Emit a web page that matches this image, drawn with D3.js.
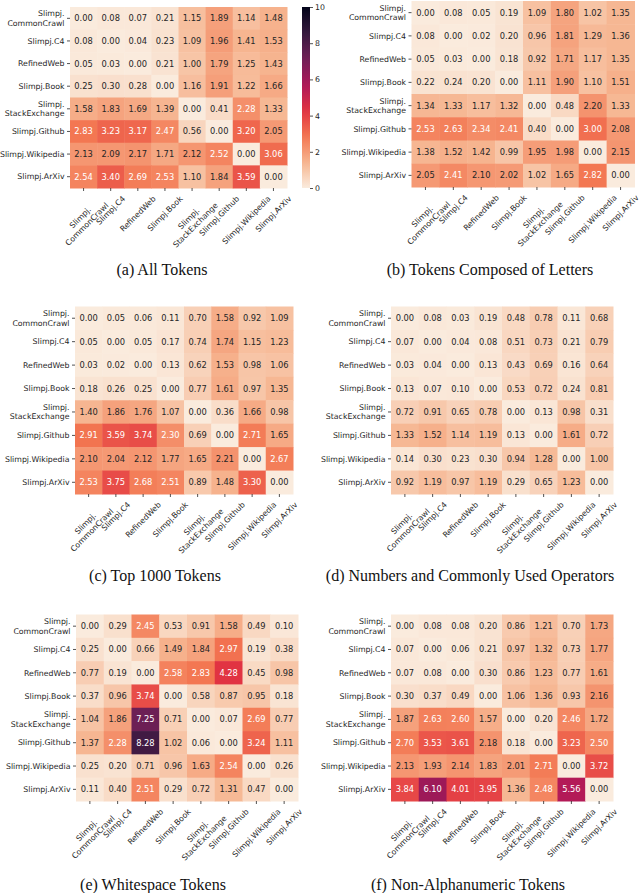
<!DOCTYPE html>
<html lang="en">
<head>
    <meta charset="UTF-8">
    <title>Token distribution distance heatmaps</title>
    <script src="https://cdn.jsdelivr.net/npm/d3@7"></script>
    <style>
        body { margin: 0; background: #fff; }
        svg { display: block; }
        .cellnum { font-family: "DejaVu Sans", sans-serif; font-size: 8.3px; }
        .ticklab { font-family: "DejaVu Sans", sans-serif; font-size: 7.8px; fill: #262626; }
        .caption { font-family: "Liberation Serif", serif; font-size: 16px; fill: #111; }
    </style>
</head>
<body>
    <div id="chart"></div>
    <script>
        // row / column labels (same order on both axes)
        const sources = ["Slimpj.\nCommonCrawl", "Slimpj.C4", "RefinedWeb", "Slimpj.Book",
            "Slimpj.\nStackExchange", "Slimpj.Github", "Slimpj.Wikipedia", "Slimpj.ArXiv"];

        const captions = ["(a) All Tokens", "(b) Tokens Composed of Letters", "(c) Top 1000 Tokens",
            "(d) Numbers and Commonly Used Operators", "(e) Whitespace Tokens", "(f) Non-Alphanumeric Tokens"];

        const colorbarTicks = [0, 2, 4, 6, 8, 10];

        const allTokens = [
            [0.00, 0.08, 0.07, 0.21, 1.15, 1.89, 1.14, 1.48],
            [0.08, 0.00, 0.04, 0.23, 1.09, 1.96, 1.41, 1.53],
            [0.05, 0.03, 0.00, 0.21, 1.00, 1.79, 1.25, 1.43],
            [0.25, 0.30, 0.28, 0.00, 1.16, 1.91, 1.22, 1.66],
            [1.58, 1.83, 1.69, 1.39, 0.00, 0.41, 2.28, 1.33],
            [2.83, 3.23, 3.17, 2.47, 0.56, 0.00, 3.20, 2.05],
            [2.13, 2.09, 2.17, 1.71, 2.12, 2.52, 0.00, 3.06],
            [2.54, 3.40, 2.69, 2.53, 1.10, 1.84, 3.59, 0.00]
        ];
        const letterTokens = [
            [0.00, 0.08, 0.05, 0.19, 1.09, 1.80, 1.02, 1.35],
            [0.08, 0.00, 0.02, 0.20, 0.96, 1.81, 1.29, 1.36],
            [0.05, 0.03, 0.00, 0.18, 0.92, 1.71, 1.17, 1.35],
            [0.22, 0.24, 0.20, 0.00, 1.11, 1.90, 1.10, 1.51],
            [1.34, 1.33, 1.17, 1.32, 0.00, 0.48, 2.20, 1.33],
            [2.53, 2.63, 2.34, 2.41, 0.40, 0.00, 3.00, 2.08],
            [1.38, 1.52, 1.42, 0.99, 1.95, 1.98, 0.00, 2.15],
            [2.05, 2.41, 2.10, 2.02, 1.02, 1.65, 2.82, 0.00]
        ];
        const top1000Tokens = [
            [0.00, 0.05, 0.06, 0.11, 0.70, 1.58, 0.92, 1.09],
            [0.05, 0.00, 0.05, 0.17, 0.74, 1.74, 1.15, 1.23],
            [0.03, 0.02, 0.00, 0.13, 0.62, 1.53, 0.98, 1.06],
            [0.18, 0.26, 0.25, 0.00, 0.77, 1.61, 0.97, 1.35],
            [1.40, 1.86, 1.76, 1.07, 0.00, 0.36, 1.66, 0.98],
            [2.91, 3.59, 3.74, 2.30, 0.69, 0.00, 2.71, 1.65],
            [2.10, 2.04, 2.12, 1.77, 1.65, 2.21, 0.00, 2.67],
            [2.53, 3.75, 2.68, 2.51, 0.89, 1.48, 3.30, 0.00]
        ];
        const numberTokens = [
            [0.00, 0.08, 0.03, 0.19, 0.48, 0.78, 0.11, 0.68],
            [0.07, 0.00, 0.04, 0.08, 0.51, 0.73, 0.21, 0.79],
            [0.03, 0.04, 0.00, 0.13, 0.43, 0.69, 0.16, 0.64],
            [0.13, 0.07, 0.10, 0.00, 0.53, 0.72, 0.24, 0.81],
            [0.72, 0.91, 0.65, 0.78, 0.00, 0.13, 0.98, 0.31],
            [1.33, 1.52, 1.14, 1.19, 0.13, 0.00, 1.61, 0.72],
            [0.14, 0.30, 0.23, 0.30, 0.94, 1.28, 0.00, 1.00],
            [0.92, 1.19, 0.97, 1.19, 0.29, 0.65, 1.23, 0.00]
        ];
        const whitespaceTokens = [
            [0.00, 0.29, 2.45, 0.53, 0.91, 1.58, 0.49, 0.10],
            [0.25, 0.00, 0.66, 1.49, 1.84, 2.97, 0.19, 0.38],
            [0.77, 0.19, 0.00, 2.58, 2.83, 4.28, 0.45, 0.98],
            [0.37, 0.96, 3.74, 0.00, 0.58, 0.87, 0.95, 0.18],
            [1.04, 1.86, 7.25, 0.71, 0.00, 0.07, 2.69, 0.77],
            [1.37, 2.28, 8.28, 1.02, 0.06, 0.00, 3.24, 1.11],
            [0.25, 0.20, 0.71, 0.96, 1.63, 2.54, 0.00, 0.26],
            [0.11, 0.40, 2.51, 0.29, 0.72, 1.31, 0.47, 0.00]
        ];
        const nonAlnumTokens = [
            [0.00, 0.08, 0.08, 0.20, 0.86, 1.21, 0.70, 1.73],
            [0.07, 0.00, 0.06, 0.21, 0.97, 1.32, 0.73, 1.77],
            [0.07, 0.08, 0.00, 0.30, 0.86, 1.23, 0.77, 1.61],
            [0.30, 0.37, 0.49, 0.00, 1.06, 1.36, 0.93, 2.16],
            [1.87, 2.63, 2.60, 1.57, 0.00, 0.20, 2.46, 1.72],
            [2.70, 3.53, 3.61, 2.18, 0.18, 0.00, 3.23, 2.50],
            [2.13, 1.93, 2.14, 1.83, 2.01, 2.71, 0.00, 3.72],
            [3.84, 6.10, 4.01, 3.95, 1.36, 2.48, 5.56, 0.00]
        ];

        const W = 640, H = 893;

        // panel boxes (heatmap area) and caption centres
        const panels = [
            { data: allTokens, x0: 70, x1: 287, y0: 7, y1: 188, cx: 162, cy: 270, cbar: true },
            { data: letterTokens, x0: 411.5, x1: 634.5, y0: 1, y1: 187, cx: 490, cy: 270 },
            { data: top1000Tokens, x0: 75, x1: 293, y0: 306.5, y1: 494, cx: 155, cy: 576 },
            { data: numberTokens, x0: 391, x1: 613, y0: 306.5, y1: 494, cx: 470, cy: 576 },
            { data: whitespaceTokens, x0: 76, x1: 298, y0: 614.5, y1: 801, cx: 153, cy: 885 },
            { data: nonAlnumTokens, x0: 391, x1: 613, y0: 614.5, y1: 801, cx: 468, cy: 885 }
        ];

        // seaborn "rocket" stops, reversed through the value scale
        const rocket = d3.scaleLinear()
            .domain([0, 1 / 7, 2 / 7, 3 / 7, 4 / 7, 5 / 7, 6 / 7, 1])
            .range(["#03051a", "#35193e", "#701f57", "#ad1759", "#e13342", "#f37651", "#f6b48f", "#faebdd"])
            .interpolate(d3.interpolateRgb);
        const color = v => rocket(1 - Math.min(v, 10) / 10);

        function luminance(c) {
            const rgb = d3.rgb(c);
            const lin = u => { u /= 255; return u <= 0.03928 ? u / 12.92 : Math.pow((u + 0.055) / 1.055, 2.4); };
            return 0.2126 * lin(rgb.r) + 0.7152 * lin(rgb.g) + 0.0722 * lin(rgb.b);
        }

        const svg = d3.select("#chart").append("svg").attr("width", W).attr("height", H);
        const fs = 7.8, lineH = fs * 1.2;

        panels.forEach((p, pi) => {
            const g = svg.append("g");
            const x = d3.scaleBand().domain(d3.range(sources.length)).range([p.x0, p.x1]);
            const y = d3.scaleBand().domain(d3.range(sources.length)).range([p.y0, p.y1]);

            const cells = p.data.flatMap((row, r) => row.map((v, c) => ({ r, c, v })));

            g.selectAll("rect.cell").data(cells).enter().append("rect")
                .attr("class", "cell")
                .attr("x", d => x(d.c)).attr("y", d => y(d.r))
                .attr("width", x.bandwidth() + 0.5).attr("height", y.bandwidth() + 0.5)
                .attr("fill", d => color(d.v));

            g.selectAll("text.cellnum").data(cells).enter().append("text")
                .attr("class", "cellnum")
                .attr("x", d => x(d.c) + x.bandwidth() / 2)
                .attr("y", d => y(d.r) + y.bandwidth() / 2)
                .attr("text-anchor", "middle")
                .attr("dy", "0.36em")
                .attr("fill", d => luminance(color(d.v)) > 0.408 ? "#262626" : "#ffffff")
                .text(d => d.v.toFixed(2));

            // y ticks + labels
            sources.forEach((s, i) => {
                const cy = y(i) + y.bandwidth() / 2;
                g.append("line").attr("x1", p.x0 - 3).attr("x2", p.x0).attr("y1", cy).attr("y2", cy)
                    .attr("stroke", "#262626").attr("stroke-width", 0.8);
                const lines = s.split("\n");
                const t = g.append("text").attr("class", "ticklab").attr("text-anchor", "end");
                lines.forEach((ln, k) => {
                    t.append("tspan").attr("x", p.x0 - 5.5)
                        .attr("y", cy + (k - (lines.length - 1) / 2) * lineH + fs * 0.35)
                        .text(ln);
                });
            });

            // x ticks + rotated labels (centred on tick, like ha="center")
            sources.forEach((s, i) => {
                const tx = x(i) + x.bandwidth() / 2;
                g.append("line").attr("x1", tx).attr("x2", tx).attr("y1", p.y1).attr("y2", p.y1 + 3)
                    .attr("stroke", "#262626").attr("stroke-width", 0.8);
                const lines = s.split("\n");
                const lg = g.append("g");
                const t = lg.append("text").attr("class", "ticklab").attr("text-anchor", "middle");
                lines.forEach((ln, k) => {
                    t.append("tspan").attr("x", 0)
                        .attr("y", (k - (lines.length - 1) / 2) * lineH + fs * 0.35)
                        .text(ln);
                });
                const w = d3.max(t.selectAll("tspan").nodes(), n => n.getComputedTextLength());
                const side = (w + lines.length * lineH) / Math.SQRT2;
                lg.attr("transform", `translate(${tx},${p.y1 + 6 + side / 2}) rotate(-45)`);
            });

            svg.append("text").attr("class", "caption")
                .attr("x", p.cx).attr("y", p.cy).attr("dy", "0.33em")
                .attr("text-anchor", "middle")
                .text(captions[pi]);

            if (p.cbar) {
                const cbx = 302, cbw = 8;
                const cs = d3.scaleLinear().domain([0, 10]).range([p.y1, p.y0]);
                const grad = svg.append("defs").append("linearGradient")
                    .attr("id", "cbgrad").attr("x1", 0).attr("x2", 0).attr("y1", 1).attr("y2", 0);
                d3.range(0, 10.01, 0.5).forEach(v => {
                    grad.append("stop").attr("offset", v / 10).attr("stop-color", color(v));
                });
                g.append("rect").attr("x", cbx).attr("y", p.y0).attr("width", cbw)
                    .attr("height", p.y1 - p.y0).attr("fill", "url(#cbgrad)");
                const ax = g.append("g").attr("transform", `translate(${cbx + cbw},0)`)
                    .call(d3.axisRight(cs).tickValues(colorbarTicks).tickSize(3).tickPadding(2));
                ax.select(".domain").remove();
                ax.selectAll("line").attr("stroke", "#262626").attr("stroke-width", 0.8);
                ax.selectAll("text").attr("class", "ticklab").attr("font-size", null).attr("font-family", null);
            }
        });
    </script>
</body>
</html>
